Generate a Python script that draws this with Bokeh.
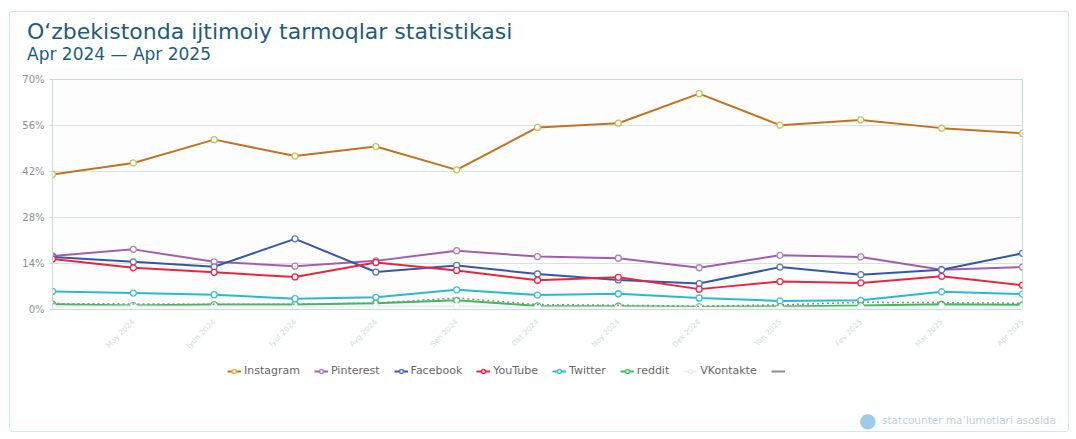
from bokeh.plotting import figure
from bokeh.layouts import column
from bokeh.models import (FixedTicker, Legend, LegendItem, Range1d, Div,
                          ColumnDataSource)
from bokeh.embed import file_html
from bokeh.resources import INLINE

# ---- data ----
month_idx = list(range(13))
tick_labels = ["Apr 2024", "May 2024", "Iyun 2024", "Iyul 2024", "Avg 2024", "Sen 2024",
               "Okt 2024", "Noy 2024", "Dek 2024", "Yan 2025", "Fev 2025", "Mar 2025",
               "Apr 2025"]
y_ticks = [0, 14, 28, 42, 56, 70]

instagram = [41.1, 44.6, 51.7, 46.7, 49.6, 42.5, 55.4, 56.7, 65.7, 56.1, 57.7, 55.2, 53.6]
pinterest = [16.3, 18.3, 14.5, 13.2, 14.8, 17.9, 16.1, 15.6, 12.7, 16.5, 16.0, 12.1, 12.9]
facebook = [16.0, 14.5, 13.0, 21.5, 11.4, 13.4, 10.8, 9.0, 7.9, 12.9, 10.6, 12.1, 17.1]
youtube = [15.4, 12.7, 11.3, 9.9, 14.3, 11.9, 8.9, 9.8, 6.2, 8.5, 8.1, 10.1, 7.4]
twitter = [5.5, 5.0, 4.5, 3.3, 3.7, 6.0, 4.4, 4.8, 3.5, 2.6, 2.8, 5.4, 4.7]
reddit = [1.6, 1.2, 1.5, 1.5, 1.9, 2.8, 1.1, 1.0, 0.8, 0.9, 1.2, 1.6, 1.4]
vkontakte = [0.9, 0.9, 0.8, 0.8, 0.9, 1.0, 0.6, 0.6, 0.5, 0.5, 0.6, 0.7, 0.7]
other = [1.8, 1.7, 1.6, 1.6, 2.0, 3.5, 1.5, 1.3, 1.0, 1.4, 2.2, 2.1, 1.9]

title_text = "O\u2018zbekistonda ijtimoiy tarmoqlar statistikasi"
subtitle_text = "Apr 2024 \u2014 Apr 2025"
source_text = "statcounter ma\u2019lumotlari asosida"

series = [
    ("Instagram", instagram, "#c4721f", "#c9c25a", None),
    ("Pinterest", pinterest, "#a45cae", "#b77cc0", None),
    ("Facebook", facebook, "#3457a8", "#5a78b8", None),
    ("YouTube", youtube, "#e8263e", "#e8264e", None),
    ("Twitter", twitter, "#2bb9d1", "#3ec0d6", None),
    ("reddit", reddit, "#3dba5c", "#52c06e", None),
    ("VKontakte", vkontakte, "#eef0f0", "#eef0f0", None),
    (" ", other, "#8a8f90", None, "2 3"),
]

TITLE_COLOR = "#1d5d7c"
FONT = "DejaVu Sans"
W = 1058

# ---- title block (HTML text) ----
title_div = Div(width=W, height=61, margin=0, text=(
    f"<div style='position:relative;width:{W}px;height:61px;font-family:\"{FONT}\";"
    f"color:{TITLE_COLOR};'>"
    f"<div style='position:absolute;left:17px;top:9px;font-size:22px;line-height:1;"
    f"white-space:nowrap;'>{title_text}</div>"
    f"<div style='position:absolute;left:17px;top:34px;font-size:17px;line-height:1;"
    f"white-space:nowrap;'>{subtitle_text}</div></div>"))

# ---- main chart ----
p = figure(width=W, height=283, output_backend="svg", toolbar_location=None,
           x_range=Range1d(0, 12), y_range=Range1d(0, 70),
           min_border_left=42, min_border_right=46, min_border_top=6,
           min_border_bottom=40)
p.background_fill_color = "#fcfdfc"
p.border_fill_color = "white"
p.outline_line_color = "#c9dbd7"

# ---- legend block (ranges far from the data so only the legend shows) ----
pl = figure(width=W, height=44, output_backend="svg", toolbar_location=None,
            x_range=Range1d(-1000, -999), y_range=Range1d(-1000, -999),
            x_axis_location=None, y_axis_location=None,
            min_border_left=0, min_border_right=0, min_border_top=0,
            min_border_bottom=0)
pl.grid.grid_line_color = None
pl.outline_line_color = None
pl.background_fill_color = "white"
pl.border_fill_color = "white"

items = []
for name, vals, lc, mc, dash in series:
    src = ColumnDataSource(dict(x=month_idx, y=vals))
    rs = []
    if dash:
        p.line("x", "y", source=src, line_color=lc, line_width=1.5, line_dash=dash)
        rs.append(pl.line("x", "y", source=src, line_color=lc, line_width=2))
    else:
        p.line("x", "y", source=src, line_color=lc, line_width=2)
        p.scatter("x", "y", source=src, size=6, fill_color="white",
                  line_color=mc, line_width=1.3)
        rs.append(pl.line("x", "y", source=src, line_color=lc, line_width=2))
        rs.append(pl.scatter("x", "y", source=src, size=7, fill_color="white",
                             line_color=mc, line_width=1.5))
    items.append(LegendItem(label=name, renderers=rs))

legend = Legend(items=items, orientation="horizontal", location=(175, 23),
                label_text_font=FONT, label_text_font_size="11px",
                label_text_color="#666666", glyph_width=14, glyph_height=10,
                spacing=14, label_standoff=3, border_line_color=None,
                background_fill_alpha=0, padding=2, margin=0)
pl.add_layout(legend, "center")

# ---- source note ----
src_div = Div(width=W, height=31, margin=0, text=(
    f"<div style='position:relative;width:{W}px;height:31px;font-family:\"{FONT}\";'>"
    f"<div style='position:absolute;left:849px;top:10px;font-size:20px;line-height:1;"
    f"color:#9ccbe6;'>\u25cf</div>"
    f"<div style='position:absolute;left:872px;top:15px;font-size:10.5px;line-height:1;"
    f"color:#bcd2d8;white-space:nowrap;'>{source_text}</div></div>"))

# axes
p.xaxis.ticker = FixedTicker(ticks=month_idx[1:])
p.xaxis.major_label_overrides = {i: t for i, t in zip(month_idx, tick_labels)}
p.xaxis.major_label_orientation = 0.785
p.xaxis.major_label_text_color = "#d2dadd"
p.xaxis.major_label_text_font_size = "7.5px"
p.xaxis.major_label_text_font = FONT
p.xaxis.axis_line_color = "#c9dbd7"
p.xaxis.major_tick_line_color = None
p.xaxis.minor_tick_line_color = None

p.yaxis.ticker = FixedTicker(ticks=y_ticks)
p.yaxis.major_label_overrides = {v: f"{v}%" for v in y_ticks}
p.yaxis.major_label_text_color = "#8a9094"
p.yaxis.major_label_text_font_size = "10px"
p.yaxis.major_label_text_font = FONT
p.yaxis.axis_line_color = "#c9dbd7"
p.yaxis.major_tick_line_color = "#c9dbd7"
p.yaxis.major_tick_out = 3
p.yaxis.major_tick_in = 0
p.yaxis.minor_tick_line_color = None

p.xgrid.grid_line_color = None
p.ygrid.grid_line_color = "#d6e4e0"

layout = column(title_div, p, pl, src_div, spacing=0)
layout.styles = {"margin-left": "9px", "margin-top": "11px",
                 "border": "1px solid #d3e6e6", "border-radius": "3px",
                 "background-color": "white"}

open("out.html", "w").write(file_html(layout, INLINE))
